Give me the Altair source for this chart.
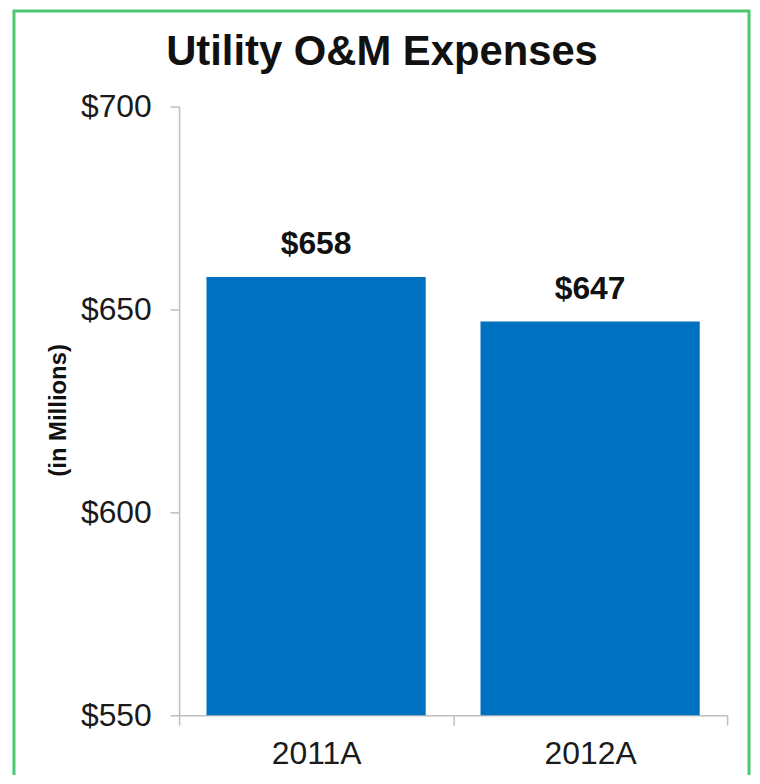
import altair as alt
import pandas as pd

categories = ["2011A", "2012A"]
values = [658, 647]
labels = ["$658", "$647"]
y_ticks = [550, 600, 650, 700]
y_min, y_max = 550, 700
title_text = "Utility O&M Expenses"

df = pd.DataFrame({"year": categories, "value": values, "label": labels})

FONT = "Liberation Sans"
BLUE = "#0070C0"
GRAY = "#BFBFBF"

base = alt.Chart(df)

bars = base.mark_bar(color=BLUE, width=alt.RelativeBandSize(0.8)).encode(
    x=alt.X("year:N", sort=categories, title=None,
            scale=alt.Scale(paddingInner=0, paddingOuter=0),
            axis=alt.Axis(labelAngle=0, labelFontSize=32, labelFont=FONT, labelColor="#1a1a1a",
                          domainColor=GRAY, tickColor=GRAY, tickSize=10, tickWidth=1.5,
                          domainWidth=1.5, tickBand="extent", labelPadding=13)),
    y=alt.Y("value:Q", title="(in Millions)",
            scale=alt.Scale(domain=[y_min, y_max], zero=False, nice=False),
            axis=alt.Axis(values=y_ticks, format="$,.0f", grid=False,
                          labelFontSize=32, labelFont=FONT, labelColor="#1a1a1a",
                          domainColor=GRAY, tickColor=GRAY, tickSize=9, tickWidth=1.5,
                          domainWidth=1.5, labelPadding=19,
                          titleFont=FONT, titleFontSize=24, titleFontWeight="bold",
                          titleColor="#111111", titleAngle=270, titleX=-121, titleY=305,
                          titleAlign="center", titleBaseline="middle")),
    y2=alt.datum(y_min),
)

text = base.mark_text(font=FONT, fontSize=32, fontWeight="bold", color="#111111",
                      baseline="alphabetic", dy=-23).encode(
    x=alt.X("year:N", sort=categories),
    y=alt.Y("value:Q"),
    text="label:N",
)

title = alt.Chart(pd.DataFrame({"t": [title_text]})).mark_text(
    font=FONT, fontSize=42, fontWeight="bold", color="#111111",
    align="center", baseline="alphabetic"
).encode(x=alt.value(204), y=alt.value(-42), text="t:N")

border = alt.Chart(pd.DataFrame({"a": [0]})).mark_rect(
    filled=False, stroke="#4CC970", strokeWidth=3
).encode(
    x=alt.value(-166), x2=alt.value(573), y=alt.value(-96), y2=alt.value(720)
)

chart = alt.layer(border, bars, text, title).properties(
    width=551,
    height=612,
    background="white",
    autosize=alt.AutoSizeParams(type="none"),
    padding={"left": 172, "top": 97, "right": 25, "bottom": 58},
).configure_view(strokeWidth=0)

chart.save("out.html", embed_options={"renderer": "svg", "actions": False})
